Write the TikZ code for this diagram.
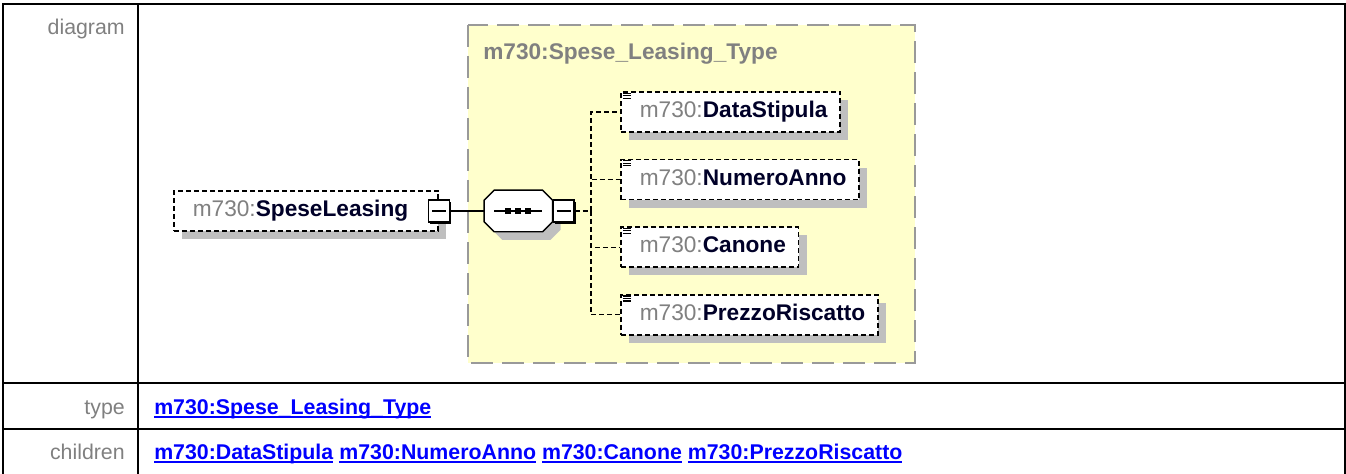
\documentclass[tikz,border=0pt]{standalone}
\usepackage{fontspec}
\setmainfont{Liberation Sans}
\usepackage{xcolor}
\usepackage{tikz}
\usetikzlibrary{positioning, calc, shadows}

\definecolor{typefill}{HTML}{FFFFCC}
\definecolor{typeborder}{HTML}{999999}
\definecolor{pfxgray}{HTML}{808080}
\definecolor{namecol}{HTML}{000028}
\definecolor{shadowgray}{HTML}{BFBFBF}
\definecolor{linkblue}{HTML}{0000FF}

\newcommand{\mname}[1]{\textcolor{pfxgray}{m730:}\textbf{\textcolor{namecol}{#1}}}
\newcommand{\reflink}[1]{\setbox0\hbox{\textbf{#1}}\rlap{\rule[-3pt]{\wd0}{1.4pt}}\box0\relax}
\newcommand{\octagon}[1]{([xshift=7.5pt]#1.north west) -- ([xshift=-7.5pt]#1.north east)
  -- ([yshift=-7.5pt]#1.north east) -- ([yshift=7.5pt]#1.south east)
  -- ([xshift=-7.5pt]#1.south east) -- ([xshift=7.5pt]#1.south west)
  -- ([yshift=7.5pt]#1.south west) -- ([yshift=-7.5pt]#1.north west) -- cycle}

\begin{document}
\begin{tikzpicture}[
  x=0.75pt, y=-0.75pt,
  grid/.style={line width=2pt, black},
  rowlabel/.style={
    anchor=base east, inner sep=0pt,
    text=pfxgray, font=\fontsize{16}{20}\selectfont
  },
  rowlink/.style={
    anchor=base west, inner sep=0pt,
    text=linkblue, font=\fontsize{16}{20}\selectfont
  },
  typebox/.style={
    fill=typefill, draw=typeborder, line width=1.5pt,
    dash pattern=on 16.5pt off 6.75pt
  },
  elem/.style={
    rectangle, draw=black, fill=white, line width=1.2pt,
    dash pattern=on 3.75pt off 2.25pt,
    minimum height=30pt, inner xsep=9.5pt, inner ysep=0pt,
    text height=12.2pt, text depth=3.6pt,
    font=\fontsize{17}{20}\selectfont,
    general shadow={fill=shadowgray, draw=none, shadow xshift=6pt, shadow yshift=-6pt}
  },
  minusbox/.style={
    rectangle, draw=black, fill=white, line width=1.1pt,
    minimum width=15.5pt, minimum height=16.5pt, inner sep=0pt,
    general shadow={fill=black, draw=none, shadow xshift=1.2pt, shadow yshift=-1.2pt},
    path picture={\draw[line width=1.1pt]
      ([xshift=2.5pt]path picture bounding box.west) --
      ([xshift=-2.5pt]path picture bounding box.east);}
  },
  seqbox/.style={
    rectangle, minimum width=51pt, minimum height=30.75pt, inner sep=0pt
  },
  seqline/.style={draw=black, fill=white, line width=1.1pt},
  solidconn/.style={line width=1.1pt, black},
  dashconn/.style={line width=1pt, black, dash pattern=on 3.75pt off 2.25pt},
  icon/.style={line width=0.8pt, black}
]

%% page and table frame
\fill[white] (0,0) rectangle (1346,474);
\useasboundingbox (0,0) rectangle (1346,474);
\draw[grid] (3,474) -- (3,4) -- (1345,4) -- (1345,474);
\draw[grid] (138,4) -- (138,474);
\draw[grid] (3,383) -- (1345,383);
\draw[grid] (3,429) -- (1345,429);

%% row labels
\node[rowlabel] (ldiag) at (125,35) {diagram};
\node[rowlabel] (ltype) at (125,414) {type};
\node[rowlabel] (lkids) at (125,459) {children};

%% links
\node[rowlink] (typelink) at (154,414) {\reflink{m730:Spese\_Leasing\_Type}};
\node[rowlink] (kidslink) at (154,459) {%
  \reflink{m730:DataStipula} \reflink{m730:NumeroAnno}
  \reflink{m730:Canone} \reflink{m730:PrezzoRiscatto}};

%% complex type area
\draw[typebox] (468,25) rectangle (915,363);
\node[anchor=base west, inner sep=0pt, text=pfxgray,
  font=\fontsize{17}{20}\selectfont\bfseries] (tname) at (483,60)
  {m730:Spese\_Leasing\_Type};

%% element and sequence
\node[elem, anchor=west] (spese) at (173,211)
  {\hspace*{4.75pt}\mname{SpeseLeasing}\hspace*{13pt}};
\node[minusbox] (sm) at (spese.east) {};
\node[seqbox, right=25.5pt of sm] (seq) {};
\fill[shadowgray, transform canvas={shift={(8,8)}}] \octagon{seq};
\path[seqline] \octagon{seq};
\node[minusbox] (qm) at ([xshift=8.25pt]seq.east) {};
\coordinate (fork) at (591,211);

\draw[solidconn] ($(seq.center)+(-24,0)$) -- ($(seq.center)+(24,0)$);
\foreach \dx in {-10,0,10}
  \fill ($(seq.center)+(\dx-3,-3)$) rectangle ($(seq.center)+(\dx+3,3)$);

%% children
\node[elem, anchor=west] (c1) at (620,112) {\hspace*{4.75pt}\mname{DataStipula}};
\node[elem, below right=19.5pt and 0pt of c1.south west] (c2)
  {\hspace*{4.75pt}\mname{NumeroAnno}};
\node[elem, below right=19.5pt and 0pt of c2.south west] (c3)
  {\hspace*{4.75pt}\mname{Canone}};
\node[elem, below right=19.5pt and 0pt of c3.south west] (c4)
  {\hspace*{4.75pt}\mname{PrezzoRiscatto}};

\foreach \c in {c1,c2,c3,c4} {
  \foreach \dy in {2,4.5,7}
    \draw[icon] ($(\c.north west)+(3,\dy)$) -- ++(8,0);
}

%% connectors
\draw[solidconn] (sm) -- (seq);
\draw[dashconn] (qm) -- (fork);
\foreach \c in {c1,c2,c3,c4}
  \draw[dashconn] (fork) |- (\c.west);

\end{tikzpicture}
\end{document}
